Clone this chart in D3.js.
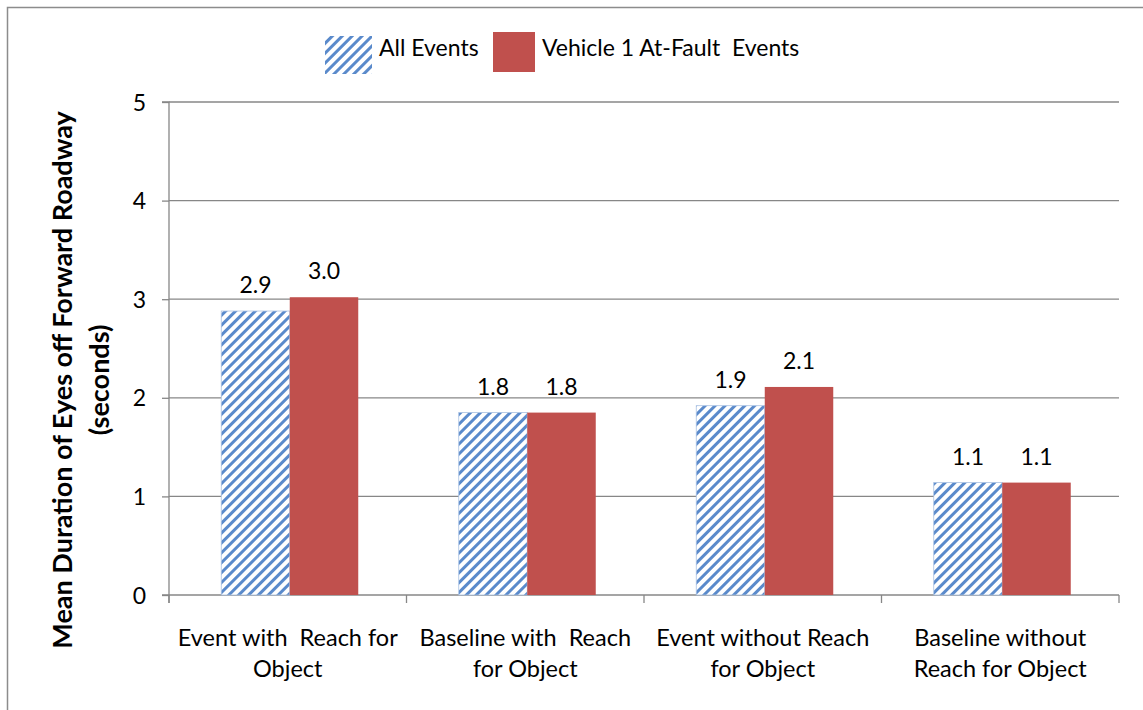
<!DOCTYPE html>
<html><head><meta charset="utf-8">
<script src="https://cdn.jsdelivr.net/npm/d3@7"></script>
<style>body{margin:0;background:#fff}svg{display:block}text{font-family:Lato,"Open Sans",sans-serif;fill:#000}</style>
</head><body>
<svg id="c" width="1143" height="710"></svg>
<script>
const categories = [["Event with  Reach for","Object"],["Baseline with  Reach","for Object"],["Event without Reach","for Object"],["Baseline without","Reach for Object"]];
const seriesNames = ["All Events","Vehicle 1 At-Fault  Events"];
const allEvents = [2.88, 1.85, 1.92, 1.14];
const atFault = [3.02, 1.85, 2.11, 1.14];
const allLabels = ["2.9","1.8","1.9","1.1"];
const faultLabels = ["3.0","1.8","2.1","1.1"];
const yTicks = [0,1,2,3,4,5];

const svg = d3.select("#c");
const defs = svg.append("defs");
const pat = defs.append("pattern").attr("id","hatch").attr("patternUnits","userSpaceOnUse")
  .attr("width",7).attr("height",7).attr("patternTransform","rotate(45)");
pat.append("rect").attr("width",7).attr("height",7).attr("fill","#fff");
pat.append("rect").attr("x",0).attr("width",3).attr("height",7).attr("fill","#5a8acb");

// outer border
svg.append("rect").attr("x",7.5).attr("y",7.5).attr("width",1140).attr("height",705)
  .attr("fill","none").attr("stroke","#8c8c8c").attr("stroke-width",1.5);

const L=169, R=1119, T=102, B=595;
const x = d3.scaleBand().domain(d3.range(categories.length)).range([L,R]);
const y = d3.scaleLinear().domain([0,5]).range([B,T]);
const barW = 68.5;

// gridlines
svg.append("g").selectAll("line").data(yTicks.filter(d=>d>0)).join("line")
  .attr("x1",L).attr("x2",R).attr("y1",d=>y(d)).attr("y2",d=>y(d))
  .attr("stroke","#878787").attr("stroke-width",1.3);

// y axis
const ya = svg.append("g").attr("transform",`translate(${L},0)`)
  .call(d3.axisLeft(y).tickValues(yTicks).tickSize(7).tickPadding(16).tickFormat(d3.format("d")));
ya.select(".domain").attr("stroke","#878787").attr("stroke-width",1.3).attr("d",`M-7,${T}H0V${B+8}`);
ya.selectAll(".tick line").attr("stroke","#878787").attr("stroke-width",1.3);
ya.selectAll(".tick text").attr("font-size",23).attr("font-family","Lato,'Open Sans',sans-serif").attr("fill","#000").attr("dy","0.35em");

// x axis
svg.append("line").attr("x1",L-7).attr("x2",R).attr("y1",B).attr("y2",B).attr("stroke","#878787").attr("stroke-width",1.3);
const bounds = d3.range(categories.length+1).map(i=> i<categories.length ? x(i) : x(i-1)+x.bandwidth());
svg.append("g").selectAll("line").data(bounds).join("line")
  .attr("x1",d=>d).attr("x2",d=>d).attr("y1",B).attr("y2",B+8).attr("stroke","#878787").attr("stroke-width",1.3);

// bars
const g = svg.append("g");
categories.forEach((c,i)=>{
  const cx = x(i)+x.bandwidth()/2 + 2;
  g.append("rect").attr("x",cx-barW).attr("y",y(allEvents[i])).attr("width",barW).attr("height",B-y(allEvents[i]))
    .attr("fill","url(#hatch)").attr("stroke","#a9c1e2").attr("stroke-width",0.8);
  g.append("rect").attr("x",cx).attr("y",y(atFault[i])).attr("width",barW).attr("height",B-y(atFault[i]))
    .attr("fill","#c0504d");
  g.append("text").attr("x",cx-barW/2).attr("y",y(allEvents[i])-18).attr("text-anchor","middle").attr("font-size",23).text(allLabels[i]);
  g.append("text").attr("x",cx+barW/2).attr("y",y(atFault[i])-18).attr("text-anchor","middle").attr("font-size",23).text(faultLabels[i]);
  c.forEach((line,j)=>{
    g.append("text").attr("x",x(i)+x.bandwidth()/2).attr("y",646+j*31).attr("text-anchor","middle")
      .attr("font-size",23.5).style("white-space","pre").text(line);
  });
});

// y title
const yt = svg.append("text").attr("transform","translate(72,380) rotate(-90)").attr("text-anchor","middle")
  .attr("font-size",27).attr("font-weight","bold");
yt.append("tspan").attr("x",0).attr("dy",0).text("Mean Duration of Eyes off Forward Roadway");
yt.append("tspan").attr("x",0).attr("dy",37).text("(seconds)");

// legend
const lg = svg.append("g");
lg.append("rect").attr("x",325).attr("y",36).attr("width",47).attr("height",38).attr("fill","url(#hatch)");
lg.append("text").attr("x",379).attr("y",48).attr("dy","0.35em").attr("font-size",23).text(seriesNames[0]);
lg.append("rect").attr("x",493).attr("y",32).attr("width",42).attr("height",40).attr("fill","#c0504d");
lg.append("text").attr("x",542).attr("y",48).attr("dy","0.35em").attr("font-size",23).style("white-space","pre").text(seriesNames[1]);
</script>
</body></html>
